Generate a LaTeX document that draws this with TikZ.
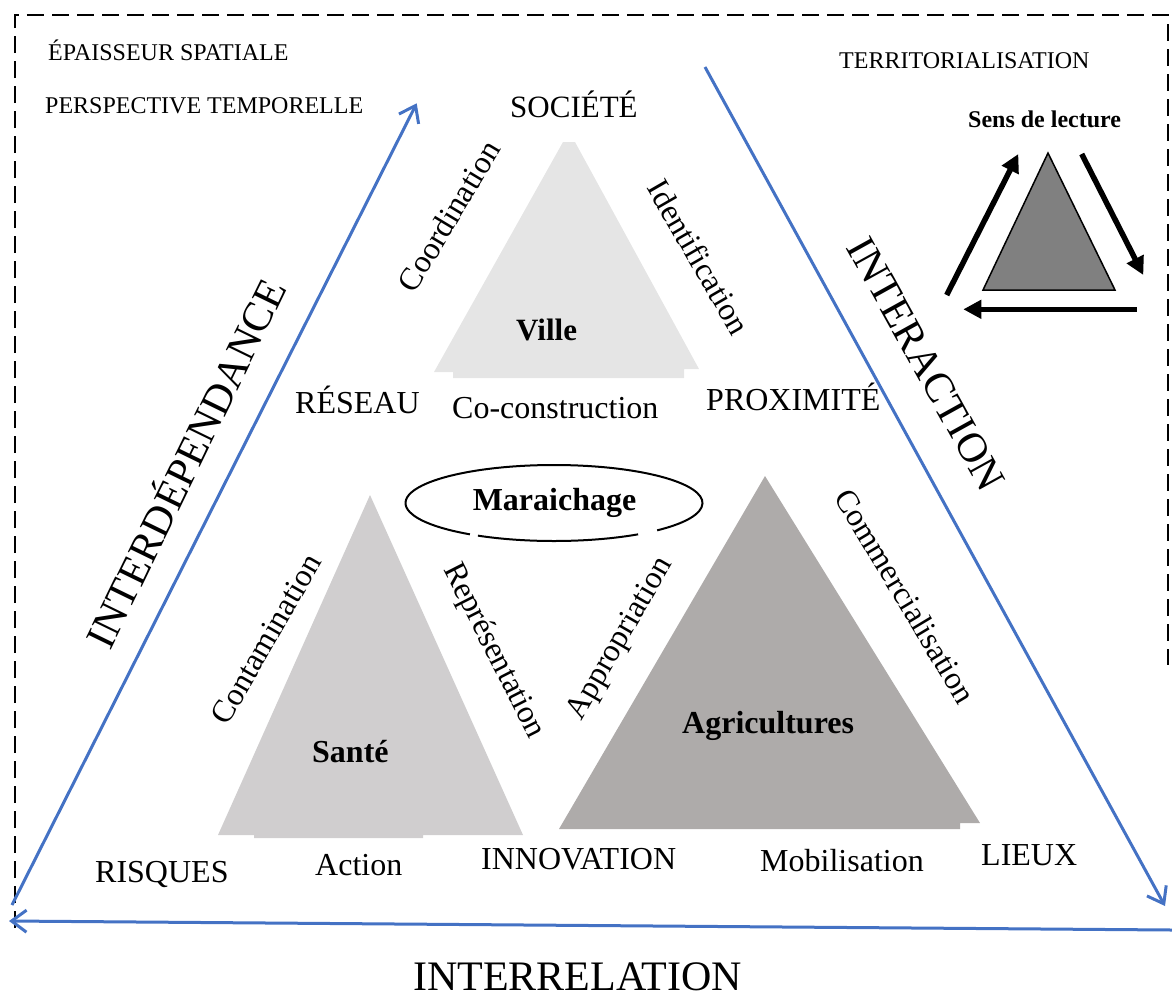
\documentclass[tikz,border=0pt]{standalone}
\usepackage{fontspec}
\setmainfont{Liberation Serif}
\usetikzlibrary{arrows.meta}
\definecolor{myblue}{HTML}{4472C4}
\definecolor{villegray}{HTML}{E5E5E5}
\definecolor{santegray}{HTML}{D0CECF}
\definecolor{agrigray}{HTML}{AEABAA}
\definecolor{smallgray}{HTML}{808080}
\tikzset{
  sml/.style={inner sep=0pt, font=\fontsize{24}{28}\selectfont},
  lbl/.style={inner sep=0pt, font=\fontsize{32}{36}\selectfont},
  lblb/.style={inner sep=0pt, font=\fontsize{32}{36}\selectfont\bfseries},
  big/.style={inner sep=0pt, font=\fontsize{42}{48}\selectfont},
  bluearrow/.style={draw=myblue, line width=3pt, -{Straight Barb[length=15pt,width=22pt]}},
  readarrow/.style={draw=black, line width=5.5pt, -{Triangle[length=18pt,width=18pt]}},
  dashborder/.style={draw=black, line width=2.2pt, dash pattern=on 17pt off 8pt},
}
\begin{document}
\begin{tikzpicture}[x=1pt,y=-1pt]
\useasboundingbox (0,0) rectangle (1172,994);
% dashed frame
\draw[dashborder] (15,928) -- (15,15) -- (1168,15) -- (1168,665);
% triangles
\fill[villegray] (434,372) -- (453,372) -- (453,378) -- (684,378) -- (684,369) -- (699,369) -- (575,142) -- (563,142) -- cycle;
\fill[santegray] (218,835) -- (254,835) -- (254,838) -- (423,838) -- (423,835) -- (523,835) -- (370,495) -- cycle;
\fill[agrigray] (559,829) -- (960,829) -- (960,823) -- (980,823) -- (765,476) -- cycle;
% blue arrows
\coordinate (LB) at (12,905);
\coordinate (LT) at (416.7,103.3);
\coordinate (RT) at (705,67);
\coordinate (RB) at (1165,906);
\coordinate (BR) at (1172,930);
\coordinate (BL) at (9,921);
\draw[bluearrow] (LB) -- (LT);
\draw[bluearrow] (RT) -- (RB);
\draw[bluearrow] (BR) -- (BL);
% reading direction legend
\draw[fill=smallgray, line width=1.5pt] (1048,153) -- (983,290) -- (1115,290) -- cycle;
\coordinate (A1) at (946.7,295);
\coordinate (A2) at (1018.3,154);
\coordinate (B1) at (1081.7,154);
\coordinate (B2) at (1143.3,275);
\coordinate (C1) at (1136.7,309.3);
\coordinate (C2) at (963.3,309.3);
\draw[readarrow] (A1) -- (A2);
\draw[readarrow] (B1) -- (B2);
\draw[readarrow] (C1) -- (C2);
% ellipse
\coordinate (E) at (554,503);
\draw[line width=2pt] ([shift={(239.2:148.5pt and 38pt)}]E) arc[start angle=239.2, end angle=304.5, x radius=148.5pt, y radius=38pt];
\draw[line width=2pt] ([shift={(314:148.5pt and 38pt)}]E) arc[start angle=314, end angle=595.5, x radius=148.5pt, y radius=38pt];
% small texts
\node[sml, anchor=base west] (epa) at (48,60) {ÉPAISSEUR SPATIALE};
\node[sml, anchor=base west] (per) at (45,113) {PERSPECTIVE TEMPORELLE};
\node[sml, anchor=base west] (ter) at (839,68) {TERRITORIALISATION};
\node[sml, anchor=base west, font=\fontsize{24}{28}\selectfont\bfseries] (sens) at (968,127) {Sens de lecture};
% main labels
\node[lbl, anchor=base west, font=\fontsize{31}{36}\selectfont] (soc) at (510,117) {SOCIÉTÉ};
\node[lblb, anchor=base west, font=\fontsize{31}{36}\selectfont\bfseries] (vil) at (516,340) {Ville};
\node[lbl, anchor=base west] (res) at (295,413) {RÉSEAU};
\node[lbl, anchor=base west] (cocon) at (452,418) {Co-construction};
\node[lbl, anchor=base west] (prox) at (706,410) {PROXIMITÉ};
\node[lblb, anchor=base] (mar) at (554.5,510) {Maraichage};
\node[lblb, anchor=base west] (san) at (312,762) {Santé};
\node[lblb, anchor=base west] (agr) at (682,733) {Agricultures};
\node[lbl, anchor=base west] (ris) at (95,882) {RISQUES};
\node[lbl, anchor=base west] (act) at (315,875) {Action};
\node[lbl, anchor=base west] (inn) at (481,869) {INNOVATION};
\node[lbl, anchor=base west] (mob) at (760,871) {Mobilisation};
\node[lbl, anchor=base west] (lie) at (981,865) {LIEUX};
% rotated labels
\node[lbl, rotate=59] (coo) at (449,216) {Coordination};
\node[lbl, rotate=-60] (ide) at (699,257) {Identification};
\node[lbl, rotate=60] (con) at (266,639) {Contamination};
\node[lbl, rotate=-63] (rep) at (493.5,651) {Représentation};
\node[lbl, rotate=60] (app) at (621,639) {Appropriation};
\node[lbl, rotate=-59] (com) at (905.5,596) {Commercialisation};
% large labels
\node[big, rotate=64] (interd) at (183,462) {INTERDÉPENDANCE};
\node[big, rotate=-61] (intera) at (926,364) {INTERACTION};
\node[big, anchor=base west] (interr) at (413,990) {INTERRELATION};
\end{tikzpicture}
\end{document}
